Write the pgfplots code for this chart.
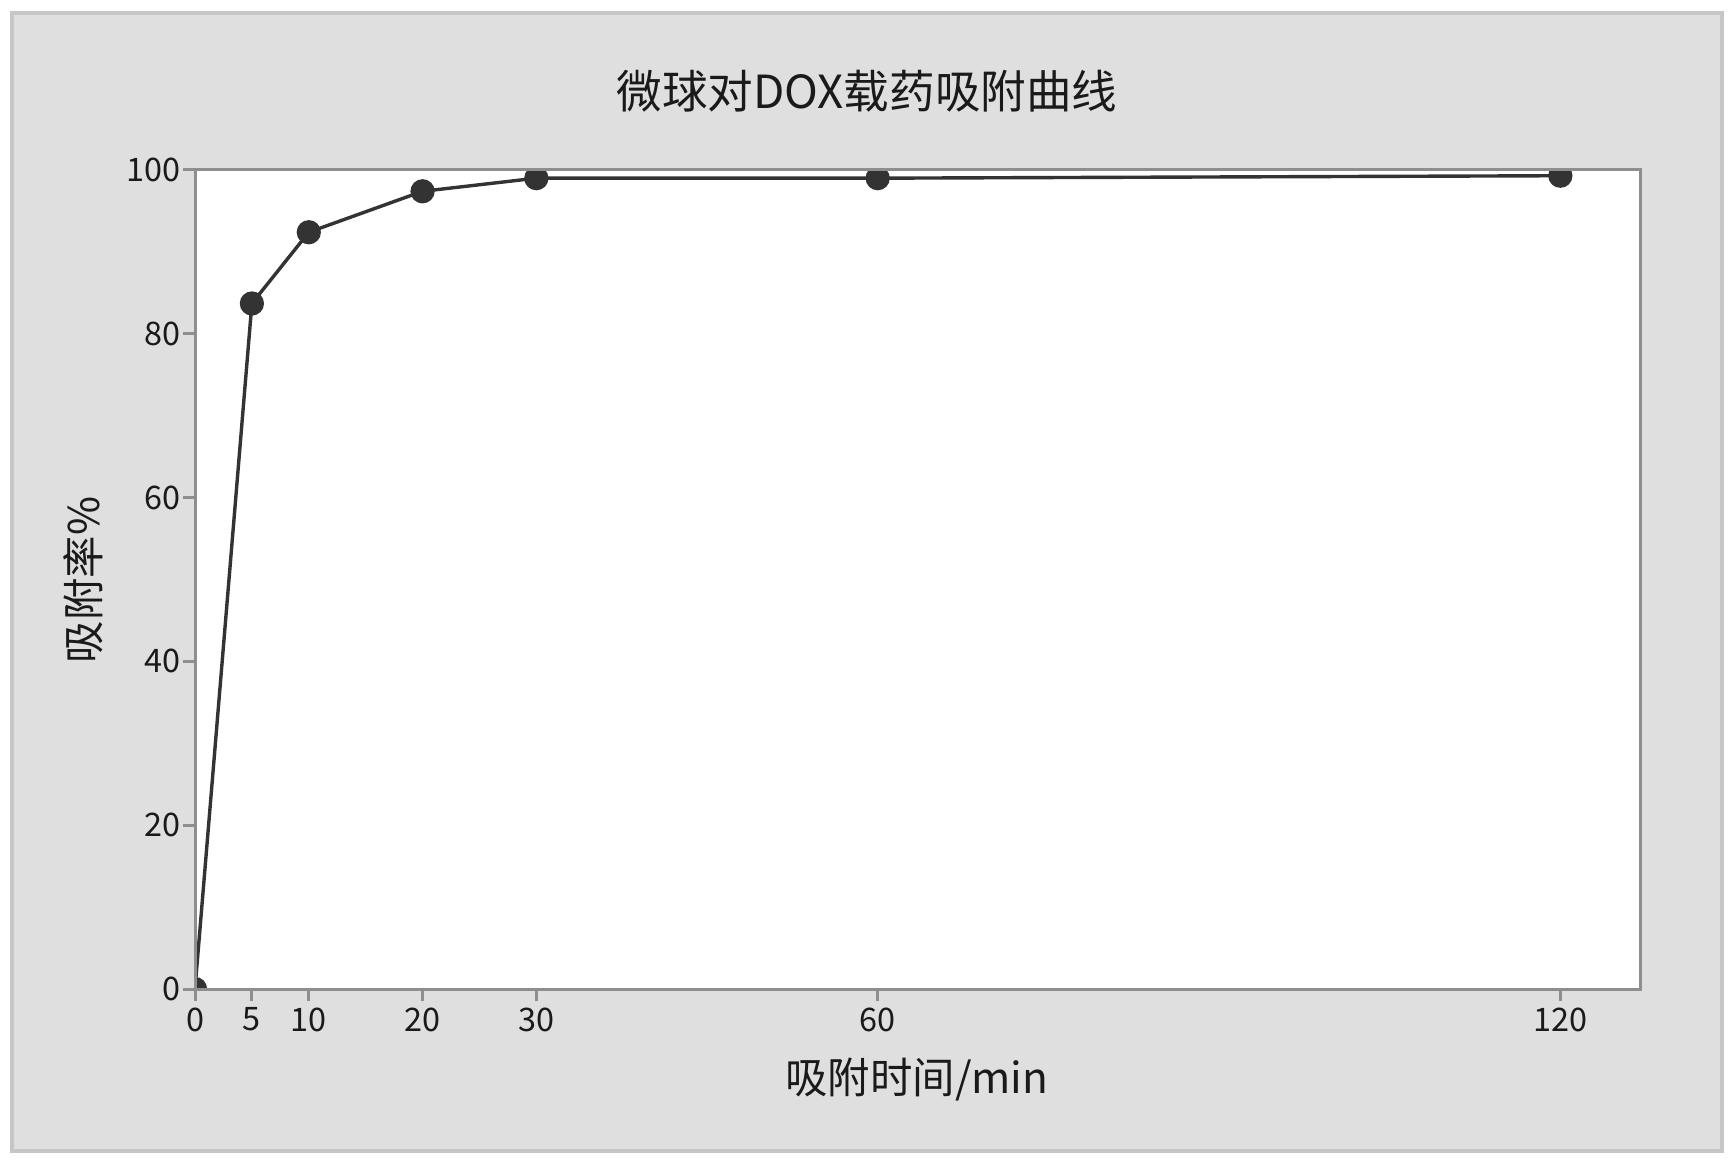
\documentclass[border=0pt]{standalone}
\usepackage{fontspec}
\setmainfont{Noto Sans CJK SC}
\usepackage{pgfplots}
\pgfplotsset{compat=1.18}
\definecolor{panelgray}{HTML}{DFDFDF}
\definecolor{paneledge}{HTML}{C6C6C6}
\definecolor{axisgray}{HTML}{8E8E8E}
\definecolor{curve}{HTML}{333333}
\definecolor{txt}{HTML}{1A1A1A}

\pgfplotstableread{
t   rate
0   0
5   83.7
10  92.4
20  97.4
30  99.0
60  99.0
120 99.3
}\adsorption

\begin{document}
\begin{tikzpicture}[x=1pt,y=1pt]
  % page and grey panel (1 px of the reference = 0.25pt)
  \fill[white] (0,0) rectangle (433.75,-291.25);
  \filldraw[fill=panelgray, draw=paneledge, line width=1pt] (2.9,-3.3) rectangle (430.6,-287.8);

  \begin{axis}[
    at={(48.75pt,-247.25pt)}, anchor=south west,
    scale only axis,
    width=361.25pt, height=204.75pt,
    xmin=0, xmax=127, ymin=0, ymax=100,
    xtick={0,5,10,20,30,60,120},
    ytick={0,20,40,60,80,100},
    axis background/.style={fill=white},
    axis line style={draw=axisgray, line width=0.75pt},
    tick style={draw=axisgray, line width=0.75pt},
    tick align=outside,
    major tick length=3pt,
    xtick pos=bottom, ytick pos=left,
    /pgf/number format/assume math mode=true,
    ticklabel style={font=\fontsize{8.1}{9}\selectfont, text=txt},
    xticklabel style={inner sep=1pt, yshift=-0.5pt},
    yticklabel style={inner sep=0.5pt},
    axis on top,
    clip marker paths=true,
  ]
    \addplot[color=curve, line width=0.85pt, mark=*, mark size=2.6pt,
             mark options={fill=curve, draw=curve}]
      table[x=t, y=rate] {\adsorption};
  \end{axis}

  \node[text=txt, font=\fontsize{11.4}{13}\selectfont] at (216.75,-22.8) {微球对DOX载药吸附曲线};
  \node[text=txt, font=\fontsize{10.6}{12}\selectfont] at (229.25,-270) {吸附时间/min};
  \node[text=txt, font=\fontsize{10.6}{12}\selectfont, rotate=90] at (20.9,-145) {吸附率\%};
\end{tikzpicture}
\end{document}
